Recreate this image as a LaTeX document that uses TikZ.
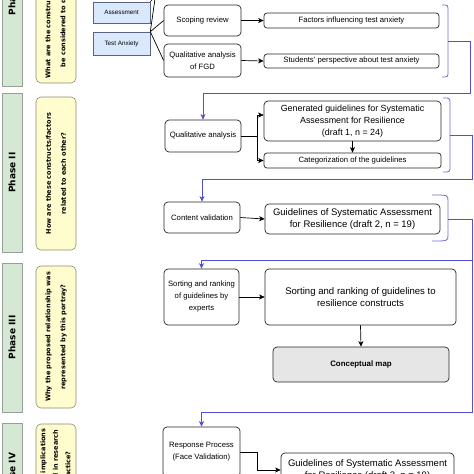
\documentclass[tikz,border=0pt]{standalone}
\usepackage{fontspec}
\setmainfont{Liberation Sans}
\newfontfamily\dvb{DejaVu Sans}[BoldFont={DejaVu Sans Bold}]
\usetikzlibrary{arrows.meta,calc,shadows}
\definecolor{phgreen}{RGB}{213,232,212}
\definecolor{phborder}{RGB}{150,160,150}
\definecolor{qyellow}{RGB}{255,252,206}
\definecolor{qborder}{RGB}{140,140,115}
\definecolor{bfill}{RGB}{218,232,252}
\definecolor{bborder}{RGB}{90,100,130}
\definecolor{cgray}{RGB}{230,230,230}
\definecolor{bline}{RGB}{80,80,210}
\definecolor{bbrk}{RGB}{110,110,210}
\tikzset{
  phasebox/.style={draw=phborder, fill=phgreen, line width=0.6pt, minimum width=20, inner sep=0pt,
    font=\dvb\bfseries\fontsize{9}{10}\selectfont,
    general shadow={shadow xshift=1.3pt, shadow yshift=-1.3pt, fill=gray!75}},
  qbox/.style={draw=qborder, fill=qyellow, line width=0.6pt, rounded corners=5pt, rotate=90,
    minimum height=40, inner sep=0pt, align=center,
    font=\dvb\bfseries\fontsize{6.5}{15}\selectfont},
  bluebox/.style={draw=bborder, fill=bfill, line width=0.6pt, minimum width=57, inner sep=0pt,
    font=\fontsize{6.3}{7}\selectfont},
  box/.style={draw=black!85, line width=0.7pt, rounded corners=4pt, inner sep=1pt, align=center,
    font=\fontsize{7.7}{12}\selectfont},
  arr/.style={draw=black, line width=0.7pt, -{Stealth[length=5.5pt,width=5pt,inset=1.5pt]}},
  ln/.style={draw=black, line width=0.7pt},
  barr/.style={draw=bline, line width=0.8pt, -{Stealth[length=5.5pt,width=5pt,inset=1.5pt]}},
  bln/.style={draw=bbrk, line width=0.8pt},
}
\newcommand\mybrk[4]{\draw[bln] (#1,#3) .. controls (#2,#3) .. (#2,{#3+6}) -- (#2,{#4-6}) .. controls (#2,#4) .. (#1,#4);}
\begin{document}
\begin{tikzpicture}[x=1pt,y=-1pt]
\useasboundingbox (0,0) rectangle (474,474);
\clip (0,0) rectangle (474,474);

% phase columns
\node[phasebox, minimum height=178] (ph1) at (12,-3) {\rotatebox{90}{Phase I}};
\node[phasebox, minimum height=159] (ph2) at (12,172.5) {\rotatebox{90}{Phase II}};
\node[phasebox, minimum height=149] (ph3) at (12,337.5) {\rotatebox{90}{Phase III}};
\node[phasebox, minimum height=104] (ph4) at (12,475) {\rotatebox{90}{Phase IV}};

% questions
\node[qbox, minimum width=136] (q1) at (56,15) {What are the constructs/factors to\\be considered to develop it?};
\node[qbox, minimum width=153] (q2) at (56,173.5) {How are these constructs/factors\\related to each other?};
\node[qbox, minimum width=142] (q3) at (56,337) {Why the proposed relationship was\\represented by this portray?};
\node[qbox, minimum width=104, font=\dvb\bfseries\fontsize{6.5}{12.5}\selectfont] (q4) at (56,476) {What are the implications\\and potential in research\\and practice?};

% blue boxes
\node[bluebox, minimum height=21] (as) at (121.5,12.5) {Assessment};
\node[bluebox, minimum height=23] (ta) at (121.5,43.5) {Test Anxiety};
\coordinate (up1) at (156,-8);
\coordinate (up2) at (155,-3);
\draw[ln] (ta.north east) -- (up1);
\draw[ln] (as.north east) -- (up2);

% phase I
\node[box, minimum width=77, minimum height=31] (scoping) at (202.5,20.5) {Scoping review};
\node[box, minimum width=77, minimum height=33] (fgd) at (202.5,60.5) {Qualitative analysis\\of FGD};
\node[box, minimum width=175, minimum height=15, rounded corners=3pt] (factors) at (351.5,20.5) {Factors influencing test anxiety};
\node[box, minimum width=175, minimum height=14, rounded corners=3pt] (students) at (351.5,61) {Students' perspective about test anxiety};
\draw[ln] (ta.north east) -- (scoping.west);
\draw[ln] (ta.north east) -- (fgd.west);
\draw[arr] (scoping.east) -- (factors.west);
\draw[arr] (fgd.east) -- (students.west);

% phase II
\node[box, minimum width=76, minimum height=32] (qa) at (203,136) {Qualitative analysis};
\node[box, minimum width=177, minimum height=40, font=\fontsize{8.9}{12}\selectfont] (gen) at (352.5,121) {Generated guidelines for Systematic\\Assessment for Resilience\\(draft 1, n = 24)};
\node[box, minimum width=177, minimum height=15, rounded corners=3pt] (cat) at (352.5,160.5) {Categorization of the guidelines};
\coordinate (sp1) at (257,136);
\draw[ln] (qa.east) -- (sp1);
\draw[arr] (sp1) |- ($(gen.west)+(0,-6)$);
\draw[arr] (sp1) |- (cat.west);
\draw[arr] (gen.south) -- (cat.north);

\node[box, minimum width=76, minimum height=31] (cv) at (202,217.5) {Content validation};
\node[box, minimum width=175, minimum height=30, font=\fontsize{9.5}{12.5}\selectfont] (g2) at (352.5,219) {Guidelines of Systematic Assessment\\for Resilience (draft 2, n = 19)};
\draw[arr] (cv.east) -- (g2.west);

% phase III
\node[box, minimum width=75, minimum height=56] (sre) at (201.5,297) {Sorting and ranking\\of guidelines by\\experts};
\node[box, minimum width=191, minimum height=56, font=\fontsize{9.6}{12.5}\selectfont] (src) at (360.5,297) {Sorting and ranking of guidelines to\\resilience constructs};
\node[box, fill=cgray, minimum width=176, minimum height=35, font=\bfseries\fontsize{7.9}{8}\selectfont] (cmap) at (361,364.5) {Conceptual map};
\draw[arr] (sre.east) -- (src.west);
\draw[arr] (src.south) -- (cmap.north);

% phase IV
\node[box, minimum width=77, minimum height=50] (rp) at (201.5,452) {Response Process\\(Face Validation)};
\node[box, minimum width=173, minimum height=34, font=\fontsize{9.5}{12.5}\selectfont] (g3) at (367.5,470) {Guidelines of Systematic Assessment\\for Resilience (draft 3, n = 19)};
\coordinate (sp4) at (257,452);
\draw[ln] (rp.east) -- (sp4);
\draw[arr] (sp4) |- (g3.west);

% brackets and phase links
\mybrk{442}{448}{5}{77}
\coordinate (b1) at (448,41);
\draw[barr] (b1) -- (470,41) -- (470,93) -| (qa.north);
\mybrk{443}{450}{98}{172}
\coordinate (b2) at (450,135);
\draw[barr] (b2) -- (472,135) -- (472,179) -| (cv.north);
\mybrk{432}{448}{195}{241}
\coordinate (b3) at (448,219);
\coordinate (rt3) at (472,260);
\draw[barr] (b3) -- (472,219) -- (rt3) -| (sre.north);
\draw[barr] (rt3) -- (472,412) -| (rp.north);
\end{tikzpicture}
\end{document}
